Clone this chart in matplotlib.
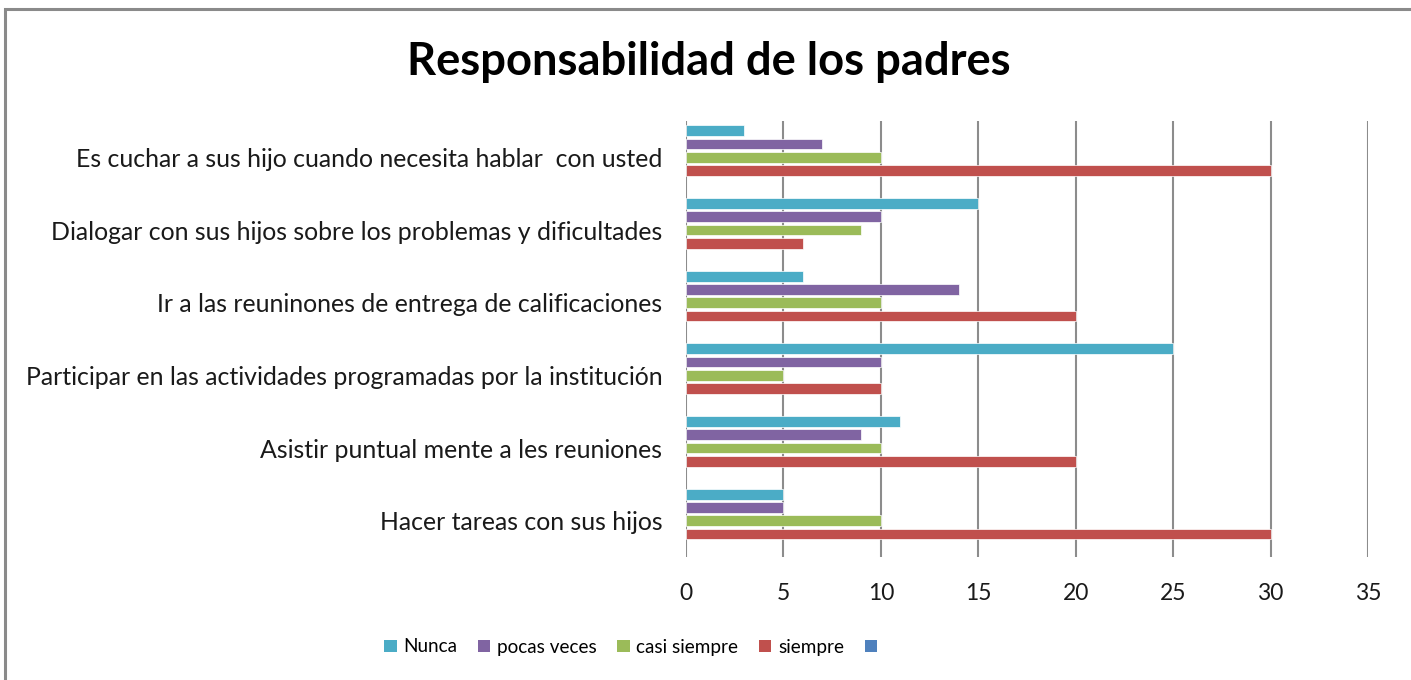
import matplotlib
matplotlib.use("Agg")
import matplotlib.pyplot as plt
from matplotlib.patches import Rectangle, Patch
import numpy as np

plt.rcParams['font.family'] = ['Lato', 'DejaVu Sans']

categories = [
    "Es cuchar a sus hijo cuando necesita hablar  con usted",
    "Dialogar con sus hijos sobre los problemas y dificultades",
    "Ir a las reuninones de entrega de calificaciones",
    "Participar en las actividades programadas por la institución",
    "Asistir puntual mente a les reuniones",
    "Hacer tareas con sus hijos",
]
nunca = [3, 15, 6, 25, 11, 5]
pocas_veces = [7, 10, 14, 10, 9, 5]
casi_siempre = [10, 9, 10, 5, 10, 10]
siempre = [30, 6, 20, 10, 20, 30]
series_names = ["Nunca", "pocas veces", "casi siempre", "siempre", ""]
series_values = [nunca, pocas_veces, casi_siempre, siempre, None]
colors = ["#4BACC6", "#8064A2", "#9BBB59", "#C0504D", "#4F81BD"]
xticks = [0, 5, 10, 15, 20, 25, 30, 35]

fig = plt.figure(figsize=(14.11, 6.80), dpi=100)
ax = fig.add_axes([686/1411, 1-557/680, (1368-686)/1411, (557-121)/680])

# outer chart border
fig.patches.append(Rectangle((5/1411, -0.05), 1.1, (1-9/680)+0.05, transform=fig.transFigure,
                             fill=False, edgecolor="#8a8a8a", linewidth=2.2, zorder=0))

y = np.arange(len(categories))
slot = 13.25/72.7
bh = 10.8/72.7
for j, (name, vals, c) in enumerate(zip(series_names, series_values, colors)):
    if vals is None:
        continue
    ax.barh(y + (j-2)*slot, vals, height=bh, color=c, edgecolor="white", linewidth=0.5, zorder=3)

ax.set_xlim(0, 35)
ax.set_ylim(len(categories)-0.5, -0.5)
ax.set_xticks(xticks)
ax.set_xticklabels([str(t) for t in xticks], fontsize=16.5, color="#1a1a1a")
ax.set_yticks(y)
ax.set_yticklabels(categories, fontsize=17.9, color="#1a1a1a")
ax.tick_params(axis='x', length=0, pad=19)
ax.tick_params(axis='y', length=0, pad=17)
for s in ax.spines.values():
    s.set_visible(False)
ax.grid(axis='x', color="#8c8c8c", linewidth=1.5, zorder=1)
ax.set_axisbelow(True)

fig.text(709/1411, 1-62/680, "Responsabilidad de los padres", ha='center', va='center',
         fontsize=32.7, fontweight='bold', color="black")

handles = [Patch(facecolor=c, edgecolor='none') for c in colors]
fig.legend(handles, series_names, loc='center', bbox_to_anchor=(634/1411, 1-647/680), ncol=5,
           frameon=False, fontsize=13.6, handlelength=0.65, handleheight=0.65, handletextpad=0.35,
           columnspacing=1.1)

fig.savefig("out.png", dpi=100)
